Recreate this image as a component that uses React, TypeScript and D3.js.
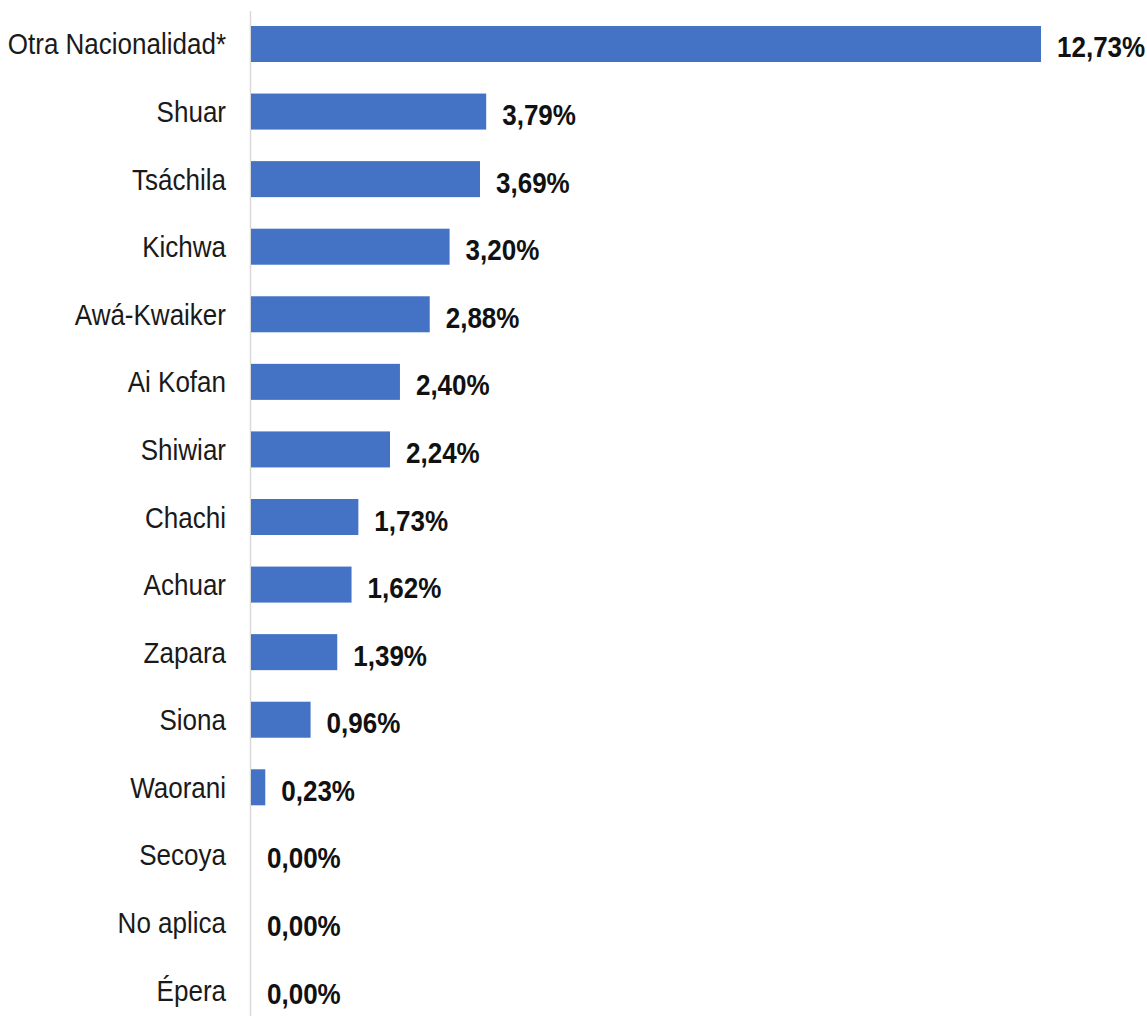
import React from "react";
import * as d3 from "d3";

const categories = [
  "Otra Nacionalidad*", "Shuar", "Tsáchila", "Kichwa", "Awá-Kwaiker", "Ai Kofan",
  "Shiwiar", "Chachi", "Achuar", "Zapara", "Siona", "Waorani", "Secoya", "No aplica", "Épera",
];
const values = [12.73, 3.79, 3.69, 3.2, 2.88, 2.4, 2.24, 1.73, 1.62, 1.39, 0.96, 0.23, 0, 0, 0];

const W = 1147;
const H = 1016;
const FONT = "'Liberation Sans', Arial, sans-serif";
const FS = 30;
const SX = 0.867;

export default function App() {
  const x = d3.scaleLinear().domain([0, 12.73]).range([251, 1041]);
  const y = d3.scaleBand<string>().domain(categories).range([10.2, 1023.8]).paddingInner(0.467).paddingOuter(0.2335);
  const fmt = (v: number) => v.toFixed(2).replace(".", ",") + "%";
  return (
    <svg width={W} height={H} style={{ position: "absolute", left: 0, top: 0, background: "#fff" }}>
      <line x1={250.5} x2={250.5} y1={11} y2={H} stroke="#d9d9d9" strokeWidth={1.5} />
      {categories.map((c, i) => {
        const yy = y(c)!;
        const bw = y.bandwidth();
        const cy = yy + bw / 2;
        return (
          <g key={c}>
            <rect x={x(0)} y={yy} width={x(values[i]) - x(0)} height={bw} fill="#4472C4" />
            <text transform={`translate(226,${cy}) scale(${SX},1)`} dy="0.35em" textAnchor="end" fontFamily={FONT} fontSize={FS} fill="#1a1a1a">
              {c}
            </text>
            <text transform={`translate(${x(values[i]) + 16},${cy + 3}) scale(${SX},1)`} dy="0.35em" fontFamily={FONT} fontSize={FS} fontWeight="bold" fill="#111">
              {fmt(values[i])}
            </text>
          </g>
        );
      })}
    </svg>
  );
}
